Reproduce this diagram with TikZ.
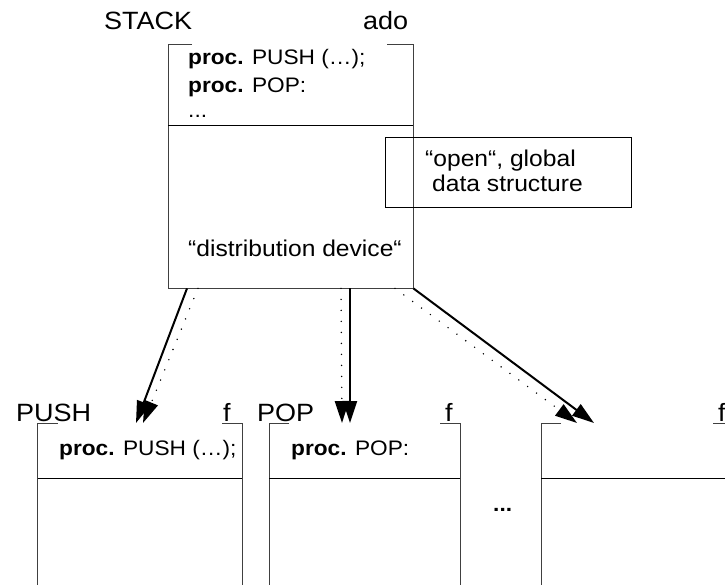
\documentclass[tikz,border=0pt]{standalone}
\usepackage{fontspec}
\setmainfont{Liberation Sans}[FakeStretch=1.08]
\usetikzlibrary{arrows.meta}

\tikzset{
  frame/.style={draw=black!75, line width=1pt},
  rule/.style={draw=black, line width=1pt},
  area/.style={rectangle, inner sep=0pt, anchor=north west},
  lbl/.style={font=\fontsize{25}{29}\selectfont, inner sep=0pt, anchor=base west},
  txt/.style={font=\fontsize{21}{25}\selectfont, inner sep=0pt, anchor=base west},
  big/.style={font=\fontsize{22.8}{27}\selectfont, inner sep=0pt, anchor=base west},
  call/.style={draw=black, line width=2pt, -{Triangle[length=22pt,width=14pt]}},
  hint/.style={draw=black, line width=1.6pt, line cap=round, dash pattern=on 0pt off 11pt,
               -{Triangle[length=22pt,width=14pt]}},
}

\begin{document}
\begin{tikzpicture}[x=1pt, y=-1pt]
  \useasboundingbox (0,0) rectangle (725,585);
  \clip (0,0) rectangle (725,585);

  % module frame with its procedure list
  \node[area, minimum width=245pt, minimum height=243pt] (stack) at (168,45) {};
  \draw[frame] ([xshift=24pt]stack.north west) -- (stack.north west) -- (stack.south west)
               -- (stack.south east) -- (stack.north east) -- ([xshift=-26pt]stack.north east);
  \draw[rule] (168,126) coordinate (sdl) -- (413,126) coordinate (sdr);
  \node[lbl] (stackname) at (104,30) {STACK};
  \node[lbl] (stackkind) at (363,30) {ado};
  \node[txt] (s1) at (188,65) {\textbf{proc.} PUSH (…);};
  \node[txt] (s2) at (188,93) {\textbf{proc.} POP:};
  \node[txt] (s3) at (188,118) {...};
  \node[big] (dist) at (188,257) {“distribution device“};

  % global data structure
  \node[area, draw=black, line width=1pt, minimum width=246pt, minimum height=70pt] (glob) at (385,137) {};
  \node[big] (g1) at (425,167) {“open“, global};
  \node[big] (g2) at (432,192) {data structure};

  % procedure frames
  \node[area, minimum width=204.5pt, minimum height=180pt] (push) at (37.5,423) {};
  \node[area, minimum width=191pt, minimum height=180pt] (pop) at (269,423) {};
  \node[area, minimum width=192pt, minimum height=180pt] (more) at (541,423) {};
  \foreach \b in {push,pop,more}{
    \draw[frame] ([xshift=20pt]\b.north west) -- (\b.north west) -- (\b.south west);
    \draw[frame] ([xshift=-20pt]\b.north east) -- (\b.north east) -- (\b.south east);
    \draw[rule] ([yshift=-55pt]\b.north west) -- ([yshift=-55pt]\b.north east);
  }
  \node[lbl] (pushname) at (16,421) {PUSH};
  \node[lbl] (pushkind) at (223,421) {f};
  \node[lbl] (popname) at (257,421) {POP};
  \node[lbl] (popkind) at (445,421) {f};
  \node[lbl] (morekind) at (718,421) {f};
  \node[txt] (p1) at (59,455) {\textbf{proc.} PUSH (…);};
  \node[txt] (q1) at (291,455) {\textbf{proc.} POP:};
  \node[txt] (dots) at (493,511) {\textbf{...}};

  % calls from the distribution device
  \draw[call] ([xshift=19pt]stack.south west) -- ([xshift=98.5pt]push.north west);
  \draw[hint] ([xshift=30pt]stack.south west) -- ([xshift=105.5pt]push.north west);
  \draw[call] ([xshift=182pt]stack.south west) -- ([xshift=81pt]pop.north west);
  \draw[hint] ([xshift=173pt]stack.south west) -- ([xshift=73pt]pop.north west);
  \draw[call] (stack.south east) -- ([xshift=53pt]more.north west);
  \draw[hint] ([xshift=227pt]stack.south west) -- ([xshift=36pt]more.north west);
\end{tikzpicture}
\end{document}
